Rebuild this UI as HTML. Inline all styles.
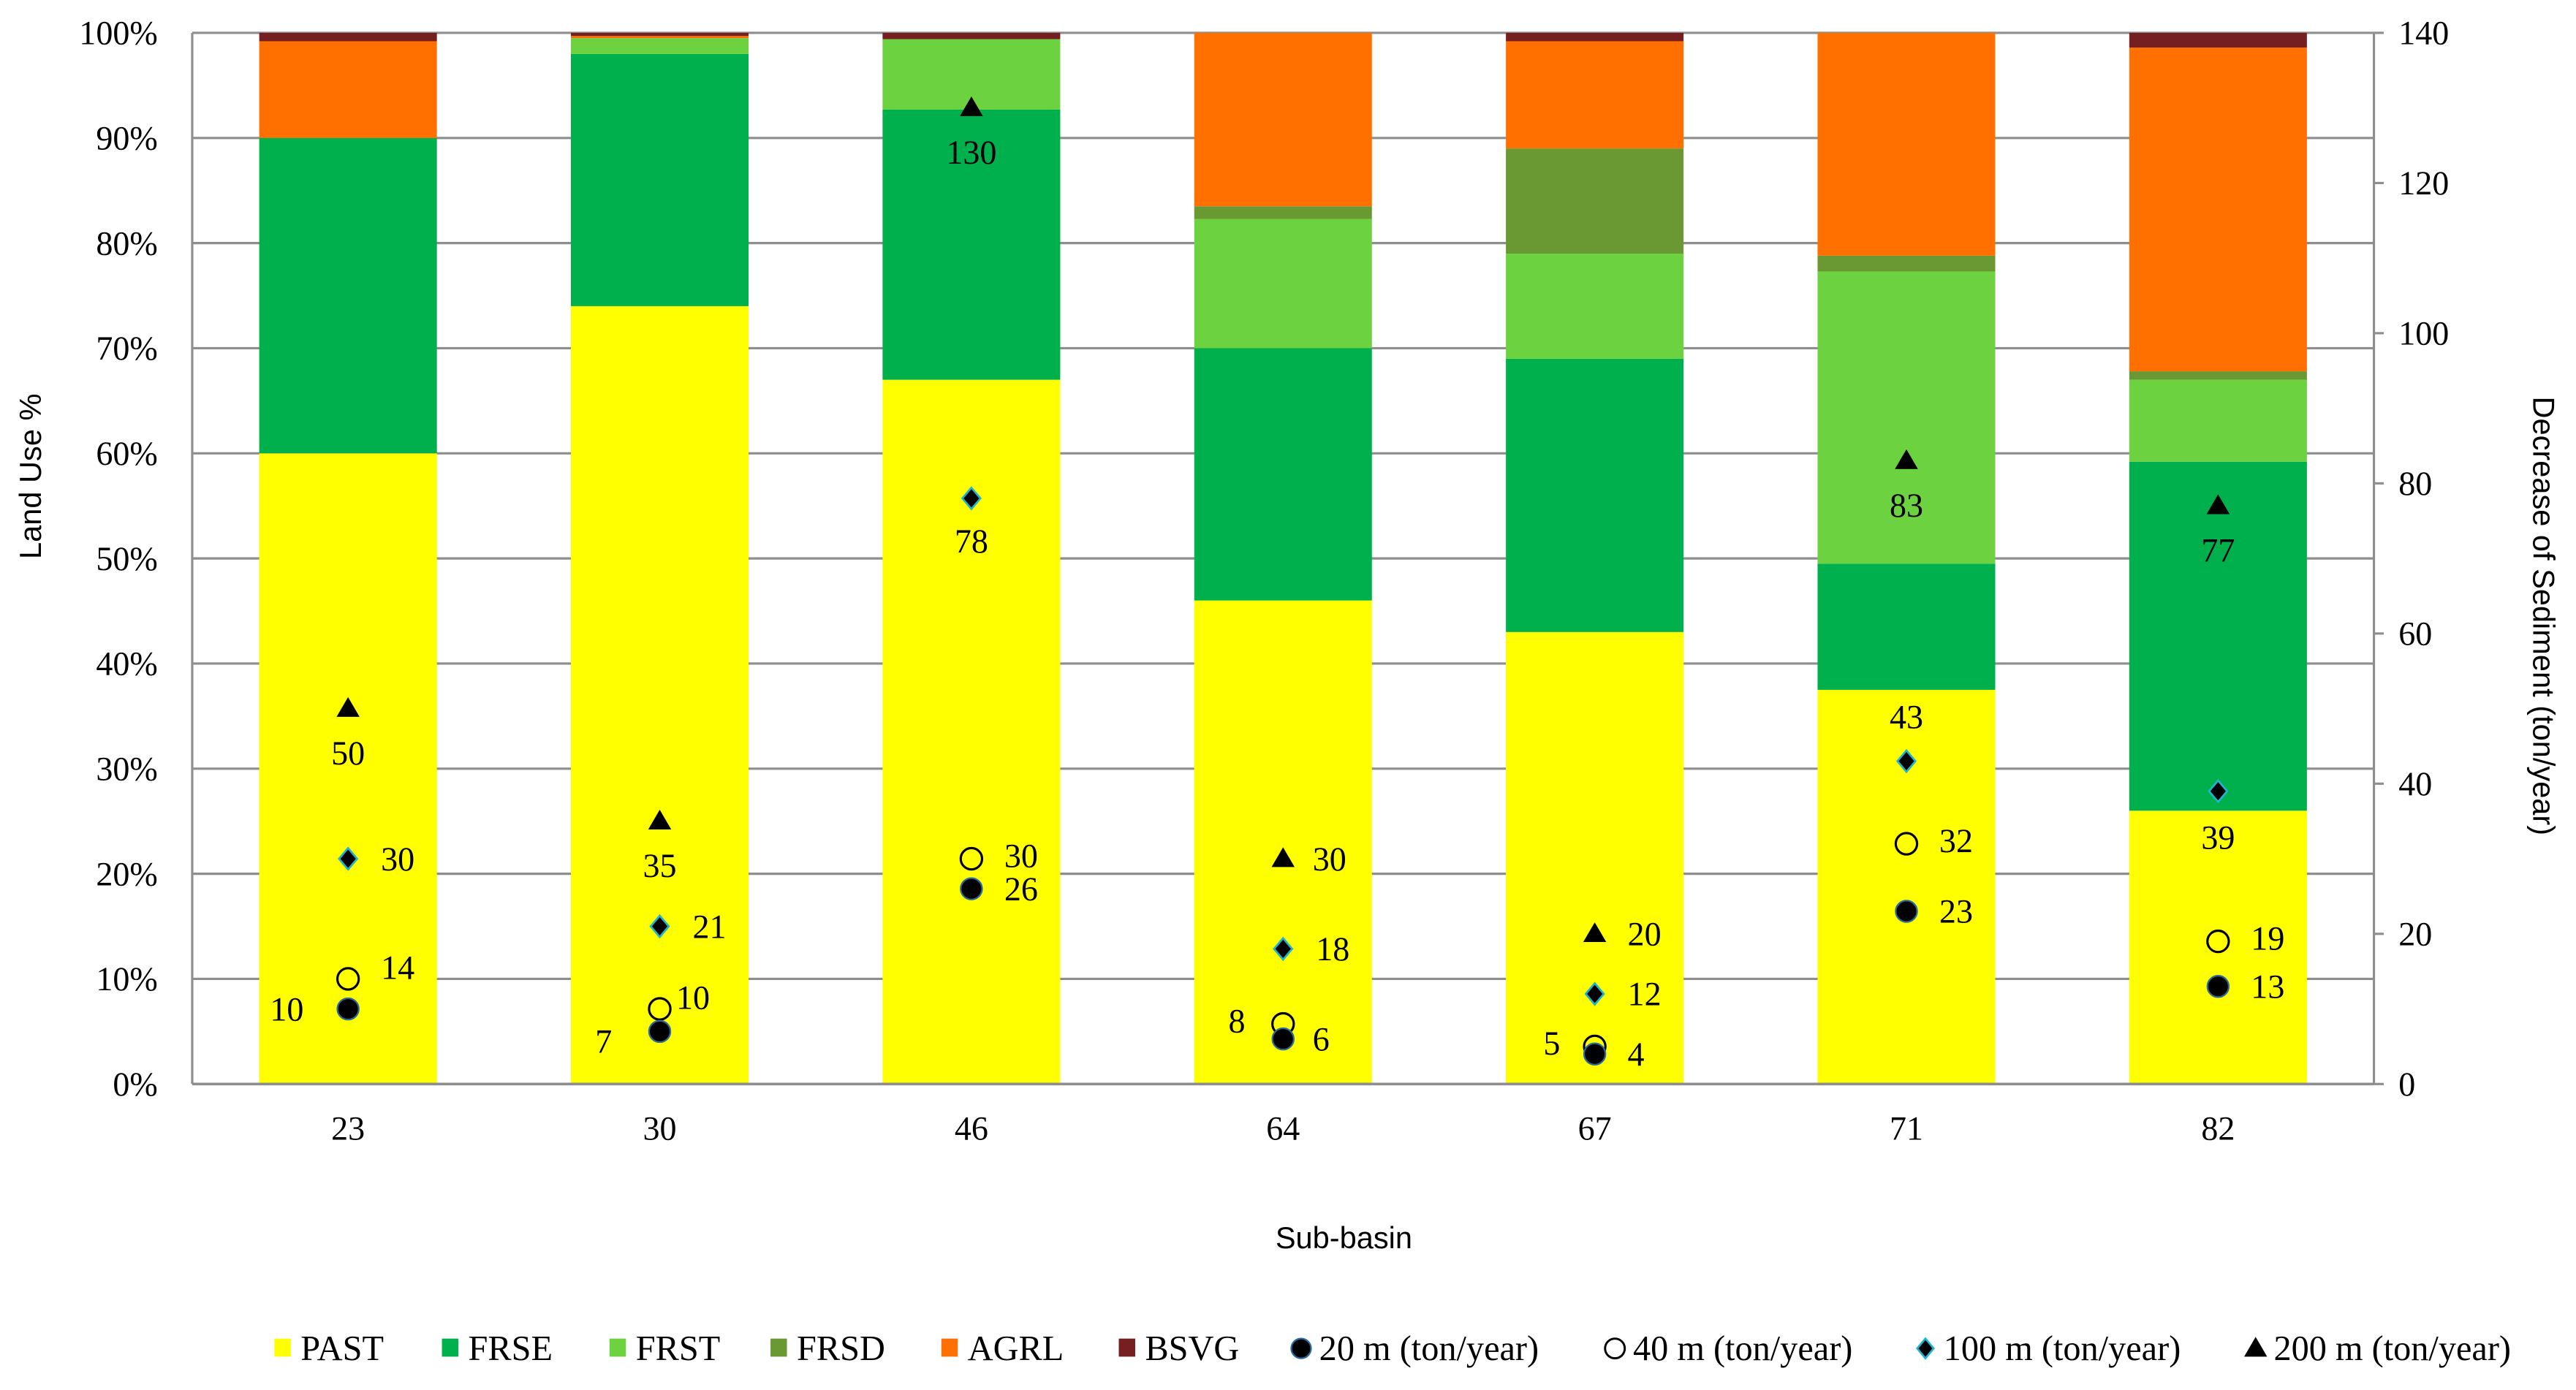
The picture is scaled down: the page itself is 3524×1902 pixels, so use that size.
<!DOCTYPE html>
<html><head><meta charset="utf-8"><style>
html,body{margin:0;padding:0;background:#fff;}
svg{display:block;}
</style></head><body>
<svg id="chart" width="3524" height="1902" viewBox="0 0 1568 846.3" xmlns="http://www.w3.org/2000/svg">
<rect width="1568" height="846.3" fill="#fff"/>
<g id="grid"></g><g id="bars"></g><g id="axes"></g><g id="marks"></g><g id="legend"></g>
<text transform="translate(25,290) rotate(-90)" text-anchor="middle" font-family="Liberation Sans, sans-serif" font-size="18.5">Land Use %</text>
<text transform="translate(1542,375) rotate(90)" text-anchor="middle" font-family="Liberation Sans, sans-serif" font-size="18.5">Decrease of Sediment (ton/year)</text>
<text x="818" y="760" text-anchor="middle" font-family="Liberation Sans, sans-serif" font-size="18.5">Sub-basin</text>
</svg>
<script>
const categories = ["23","30","46","64","67","71","82"];
const PAST = [60,74,67,46,43,37.5,26];
const FRSE = [30,24,25.7,24,26,12,33.2];
const FRST = [0,1.5,6.7,12.3,10,27.8,7.8];
const FRSD = [0,0,0,1.2,10,1.5,0.8];
const AGRL = [9.2,0.2,0,16.5,10.2,21.2,30.8];
const BSVG = [0.8,0.3,0.6,0,0.8,0,1.4];
const sed20 = [10,7,26,6,4,23,13];
const sed40 = [14,10,30,8,5,32,19];
const sed100 = [30,21,78,18,12,43,39];
const sed200 = [50,35,130,30,20,83,77];
const leftTicks = ["0%","10%","20%","30%","40%","50%","60%","70%","80%","90%","100%"];
const rightTicks = ["0","20","40","60","80","100","120","140"];

const NS="http://www.w3.org/2000/svg";
const L=117,R=1445,T=20,B=660;
const bw=(R-L)/categories.length;
const xc=i=>L+bw*(i+0.5);
const yp=v=>B-(B-T)*v/100;
const ys=v=>B-(B-T)*v/140;
function mk(tag,attrs,parent,txt){const e=document.createElementNS(NS,tag);for(const k in attrs)e.setAttribute(k,attrs[k]);if(txt!==undefined)e.textContent=txt;parent.appendChild(e);return e;}
const G=id=>document.getElementById(id);
const serif="Liberation Serif, serif";

leftTicks.forEach((t,i)=>{
  const y=yp(i*10);
  const ln=mk('line',{x1:L,x2:R,y1:y,y2:y,stroke:'#8e8e8e','stroke-width':1.4},G('grid'));
  
  
  const tx=mk('text',{x:96,y:y+7,'text-anchor':'end','font-family':serif,'font-size':20.5},G('axes'),t);
  
  
});
rightTicks.forEach((t,i)=>{
  const v=+t,y=ys(v);
  mk('line',{x1:R,x2:R+6,y1:y,y2:y,stroke:'#8e8e8e','stroke-width':1.4},G('axes'));
  const tx=mk('text',{x:1460,y:y+7,'font-family':serif,'font-size':20.5},G('axes'),t);
  
  
});
mk('line',{x1:L,x2:L,y1:T,y2:B,stroke:'#8e8e8e','stroke-width':1.4},G('axes'));
mk('line',{x1:R,x2:R,y1:T,y2:B,stroke:'#8e8e8e','stroke-width':1.4},G('axes'));
mk('line',{x1:L,x2:R,y1:B,y2:B,stroke:'#8e8e8e','stroke-width':1.6},G('axes'));

const series=[["PAST",PAST,"#ffff00"],["FRSE",FRSE,"#00b04c"],["FRST",FRST,"#6cd240"],["FRSD",FRSD,"#6a9833"],["AGRL",AGRL,"#ff7000"],["BSVG",BSVG,"#761f20"]];
const barW=bw*0.57;
categories.forEach((c,i)=>{
  let cum=0;
  series.forEach(([n,arr,col])=>{
    const v=arr[i]; if(v<=0){return;}
    const y0=yp(cum), y1=yp(Math.min(100,cum+v)); cum+=v;
    const r=mk('rect',{x:xc(i)-barW/2,y:y1,width:barW,height:y0-y1,fill:col},G('bars'));
    
    
  });
  const tx=mk('text',{x:xc(i),y:694,'text-anchor':'middle','font-family':serif,'font-size':20.5},G('axes'),c);
  
  
});

const off20=[[-27,7],[-29,13],[20,7],[18,7],[20,7],[20,7],[20,7]];
const off40=[[20,0],[10,0],[20,5],[-23,5],[-21,5],[20,5],[20,5]];
const off100=[[20,7],[20,7],[0,33],[20,7],[20,7],[0,-20],[0,35]];
const off200=[[0,34],[0,34],[0,34],[18,7],[20,7],[0,34],[0,34]];
function label(x,y,o,v,g){
  const t=mk('text',{x:x+o[0],y:y+o[1],'text-anchor':o[0]===0?'middle':(o[0]<0?'end':'start'),'font-family':serif,'font-size':20.5},g,String(v));
  
  
}
const mg=G('marks');
categories.forEach((c,i)=>{
  const x=xc(i);
  let y=ys(sed200[i]);
  const tri=mk('path',{d:`M${x} ${y-7}L${x+7} ${y+5}L${x-7} ${y+5}Z`,fill:'#000'},mg);
  
  
  label(x,y,off200[i],sed200[i],mg);
  y=ys(sed100[i]);
  const dm=mk('path',{d:`M${x} ${y-6.5}L${x+5.5} ${y}L${x} ${y+6.5}L${x-5.5} ${y}Z`,fill:'#000',stroke:'#1fb4d0','stroke-width':1.2},mg);
  
  
  label(x,y,off100[i],sed100[i],mg);
  y=ys(sed40[i]);
  const c40=mk('circle',{cx:x,cy:y,r:6.5,fill:'none',stroke:'#000','stroke-width':1.4},mg);
  
  
  label(x,y,off40[i],sed40[i],mg);
  y=ys(sed20[i]);
  const c20=mk('circle',{cx:x,cy:y,r:6.5,fill:'#000',stroke:'#2a6aa0','stroke-width':1},mg);
  
  
  label(x,y,off20[i],sed20[i],mg);
});

const lg=G('legend'), ly=821;
const legItems=[["PAST",172,"sq","#ffff00"],["FRSE",274,"sq","#00b04c"],["FRST",376,"sq","#6cd240"],["FRSD",474,"sq","#6a9833"],["AGRL",578,"sq","#ff7000"],["BSVG",686,"sq","#761f20"],["20 m (ton/year)",792,"c20"],["40 m (ton/year)",983,"c40"],["100 m (ton/year)",1172,"dm"],["200 m (ton/year)",1373,"tri"]];
legItems.forEach(([n,x,k,col])=>{
  const g=mk('g',{},lg);
  
  
  if(k==='sq') mk('rect',{x:x-5,y:ly-6,width:10,height:11,fill:col},g);
  else if(k==='c20') mk('circle',{cx:x,cy:ly,r:6,fill:'#000',stroke:'#2a6aa0','stroke-width':1},g);
  else if(k==='c40') mk('circle',{cx:x,cy:ly,r:6,fill:'none',stroke:'#000','stroke-width':1.3},g);
  else if(k==='dm') mk('path',{d:`M${x} ${ly-6}L${x+5} ${ly}L${x} ${ly+6}L${x-5} ${ly}Z`,fill:'#000',stroke:'#1fb4d0','stroke-width':1.2},g);
  else mk('path',{d:`M${x} ${ly-7}L${x+7} ${ly+5}L${x-7} ${ly+5}Z`,fill:'#000'},g);
  mk('text',{x:x+11,y:ly+7,'font-family':serif,'font-size':21.5},g,n);
});
</script>
</body></html>
